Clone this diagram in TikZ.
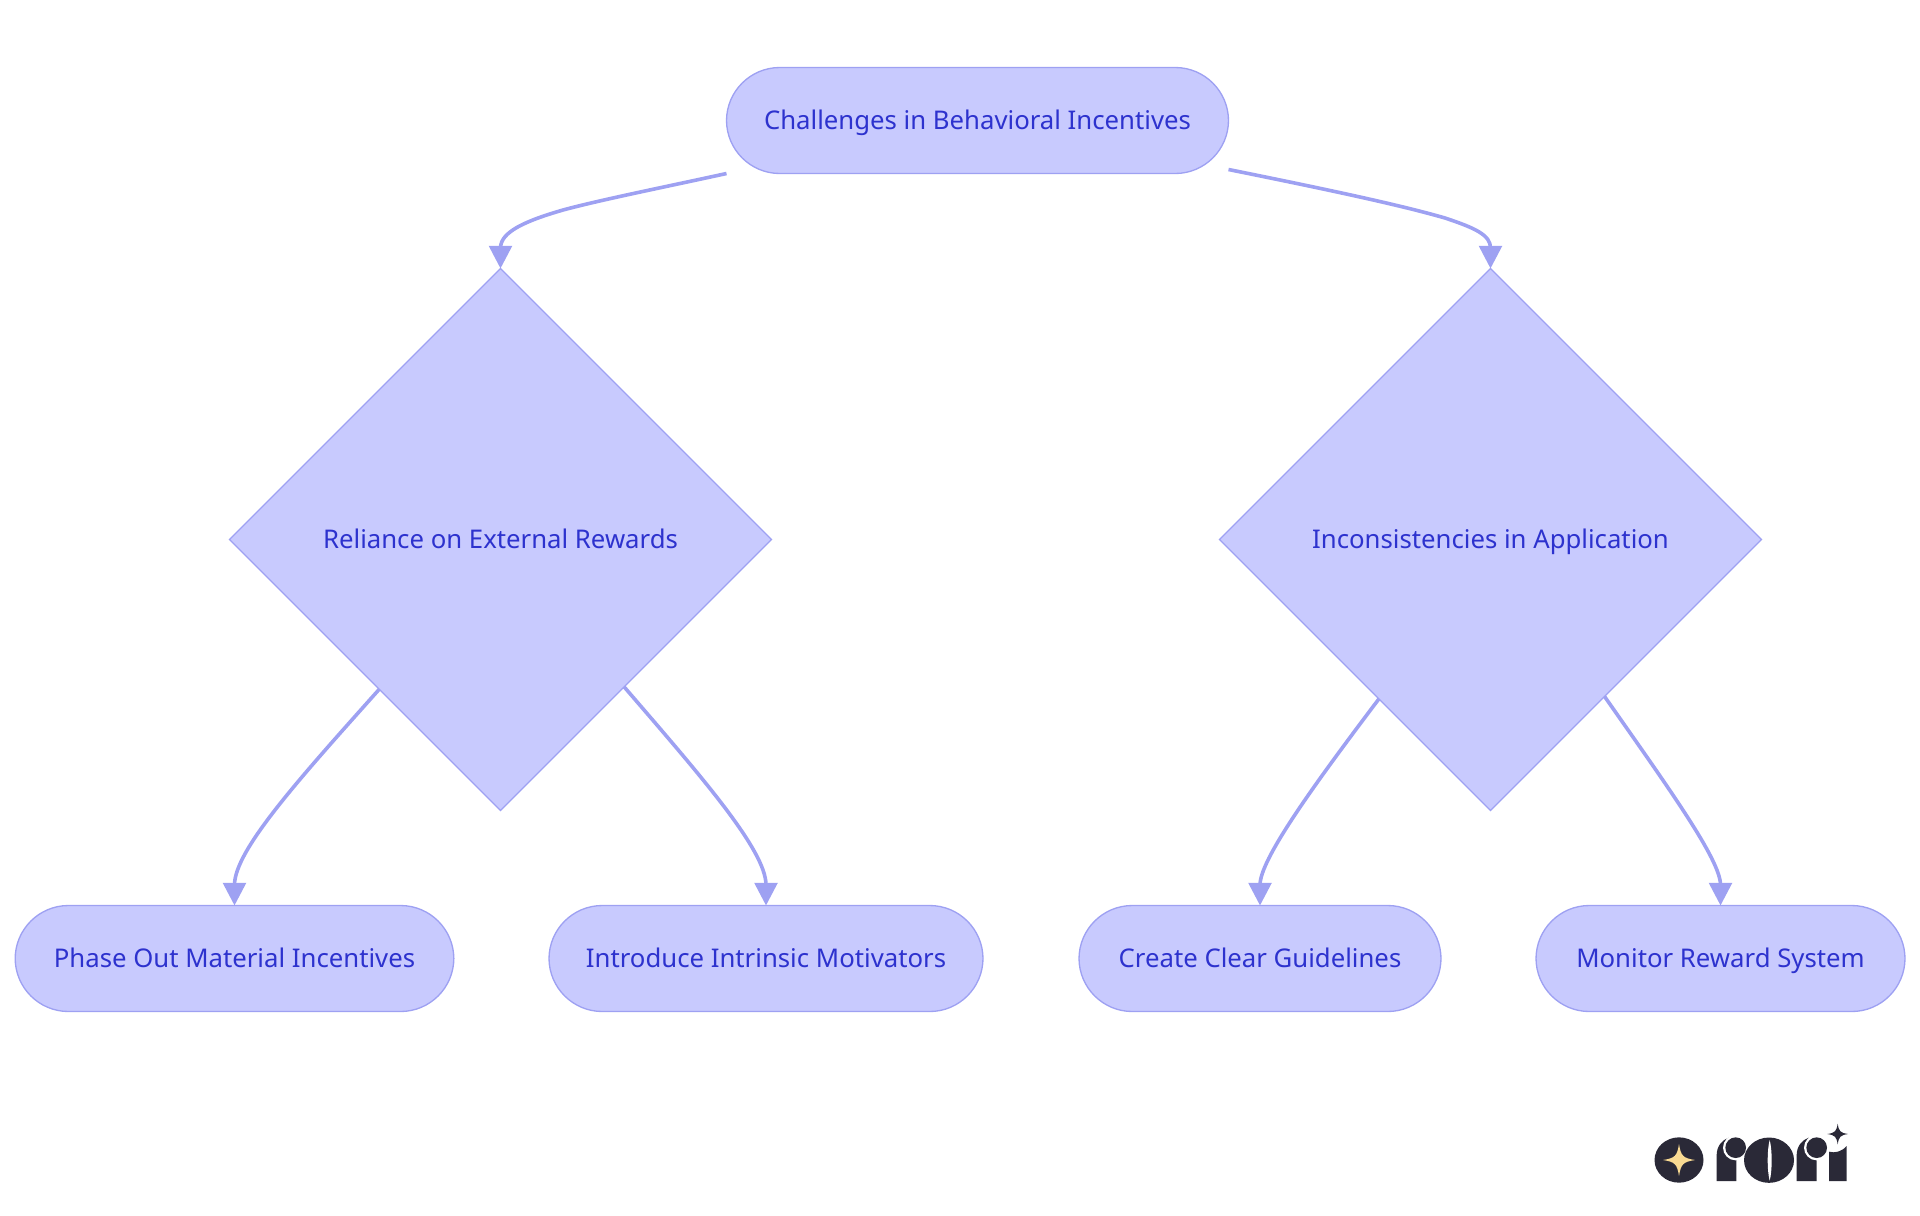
\documentclass[tikz,border=0pt]{standalone}
\usepackage{fontspec}
\setmainfont{Noto Sans}
\usetikzlibrary{shapes.geometric,arrows.meta}
\definecolor{nodefill}{HTML}{C8CAFE}
\definecolor{nodeline}{HTML}{9EA1F2}
\definecolor{nodetext}{HTML}{2D32CE}
\definecolor{logodark}{HTML}{2A2937}
\definecolor{logostar}{HTML}{F9DA92}
\newcommand{\fourstar}[4]{\fill[#4] (#1+#3,#2) .. controls (#1+#3*0.25,#2+#3*0.12) and (#1+#3*0.12,#2+#3*0.25) .. (#1,#2+#3) .. controls (#1-#3*0.12,#2+#3*0.25) and (#1-#3*0.25,#2+#3*0.12) .. (#1-#3,#2) .. controls (#1-#3*0.25,#2-#3*0.12) and (#1-#3*0.12,#2-#3*0.25) .. (#1,#2-#3) .. controls (#1+#3*0.12,#2-#3*0.25) and (#1+#3*0.25,#2-#3*0.12) .. (#1+#3,#2) -- cycle;}
\tikzset{
  shapebase/.style={draw=nodeline,fill=nodefill,line width=1pt,text=nodetext,font=\fontsize{19.3pt}{22pt}\selectfont,inner sep=0pt,outer sep=0pt,text height=16pt,text depth=3pt},
  pill/.style={shapebase,rectangle,rounded corners=40pt,minimum height=79.5pt},
  rhomb/.style={shapebase,diamond,aspect=1,minimum width=406.5pt,minimum height=406.5pt},
  link/.style={draw=nodeline,line width=2.7pt,-{Triangle[length=17pt,width=17pt,fill=nodeline]}},
}
\begin{document}
\begin{tikzpicture}[x=0.75pt,y=-0.75pt]
\useasboundingbox (0,0) rectangle (1920,1215);
\node[pill,minimum width=376.5pt] (root) at (977.5,120.5) {Challenges in Behavioral Incentives};
\node[rhomb] (dl) at (500.5,539.5) {Reliance on External Rewards};
\node[rhomb] (dr) at (1490.5,539.5) {Inconsistencies in Application};
\node[pill,minimum width=329pt] (a) at (234.5,958.5) {Phase Out Material Incentives};
\node[pill,minimum width=325.5pt] (b) at (766,958.5) {Introduce Intrinsic Motivators};
\node[pill,minimum width=271.5pt] (c) at (1260,958.5) {Create Clear Guidelines};
\node[pill,minimum width=276.75pt] (d) at (1720.5,958.5) {Monitor Reward System};
\coordinate (rs) at ([yshift=3pt]root.south east);
\draw[link] (root.south west) .. controls (660,188) and (600,200) .. (563,210) .. controls (525,221) and (500.5,232) .. (500.5,248) -- (dl.north);
\draw[link] (rs) .. controls (1330,190) and (1400,205) .. (1445,218) .. controls (1475,228) and (1490.5,235) .. (1490.5,248) -- (dr.north);
\draw[link] (dl.-129.7) .. controls (300,778) and (234.5,850) .. (234.5,885) -- (a.north);
\draw[link] (dl.-50.6) .. controls (700,775) and (766,850) .. (766,885) -- (b.north);
\draw[link] (dr.-125.3) .. controls (1310,790) and (1260,860) .. (1260,885) -- (c.north);
\draw[link] (dr.-54.5) .. controls (1670,790) and (1720.5,860) .. (1720.5,885) -- (d.north);
% logo, in the coordinates of a 3x crop
\begin{scope}[shift={(1620,1100)},x=0.25pt,y=-0.25pt]
\fill[logodark] (177,180) ellipse[x radius=73.5,y radius=68];
\fourstar{177}{180}{48}{logostar}
\fill[logodark] (290,243) -- (290,165) .. controls (290,140) and (305,120) .. (326,113) -- (349,150) -- (349,243) -- cycle;
\fill[white] (347,143) circle[radius=38];
\fill[logodark] (347,143) circle[radius=31];
\fill[logodark] (447,180.5) ellipse[x radius=75,y radius=68];
\fill[white] (449,120) .. controls (441,150) and (441,212) .. (449,242) .. controls (457,212) and (457,150) .. (449,120) -- cycle;
\fill[logodark] (530,243) -- (530,165) .. controls (530,140) and (545,120) .. (566,113) -- (590,150) -- (590,243) -- cycle;
\fill[white] (590,143) circle[radius=38];
\fill[logodark] (590,143) circle[radius=31];
\fill[logodark] (627,243) -- (627,155) .. controls (645,160) and (665,155) .. (680,138) -- (680,243) -- cycle;
\fourstar{653}{102}{31}{logodark}
\end{scope}
\end{tikzpicture}
\end{document}
